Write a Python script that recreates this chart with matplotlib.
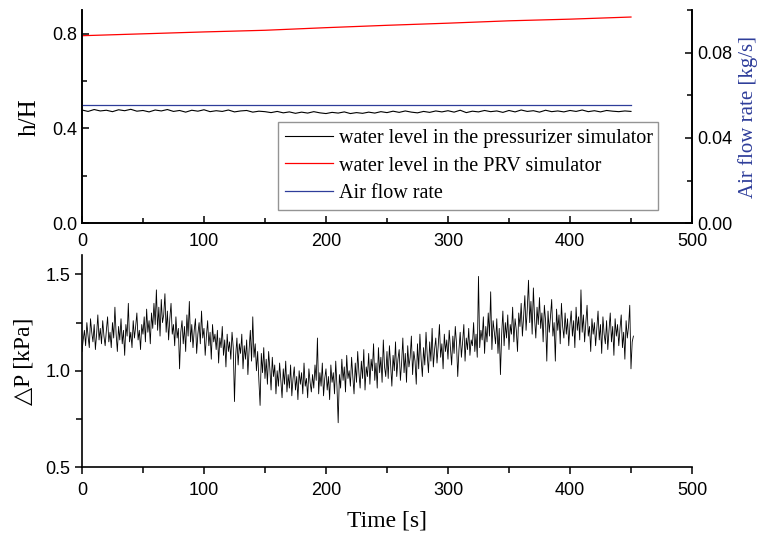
import matplotlib

matplotlib.use("Agg")
import matplotlib.pyplot as plt
import numpy as np
from matplotlib.ticker import MultipleLocator

plt.rcParams["font.family"] = ["Liberation Sans", "DejaVu Sans"]
SERIF = ["Liberation Serif", "DejaVu Serif"]

# water level in the pressurizer simulator, one value every 5 s
level_dt = 5.0
level_pressurizer = [
    0.478, 0.472, 0.480, 0.474, 0.477, 0.471, 0.479, 0.475, 0.481, 0.473,
    0.476, 0.470, 0.478, 0.474, 0.480, 0.472, 0.476, 0.469, 0.477, 0.473,
    0.479, 0.471, 0.475, 0.472, 0.478, 0.470, 0.474, 0.476, 0.469, 0.473,
    0.471, 0.467, 0.472, 0.466, 0.470, 0.464, 0.469, 0.465, 0.471, 0.466,
    0.463, 0.468, 0.465, 0.470, 0.463, 0.467, 0.464, 0.469, 0.465, 0.471,
    0.467, 0.473, 0.468, 0.474, 0.469, 0.466, 0.472, 0.468, 0.474, 0.470,
    0.475, 0.469, 0.477, 0.467, 0.473, 0.470, 0.476, 0.471, 0.474, 0.468,
    0.476, 0.470, 0.478, 0.472, 0.475, 0.469, 0.477, 0.471, 0.474, 0.470,
    0.476, 0.472, 0.478, 0.471, 0.475, 0.470, 0.476, 0.473, 0.471, 0.474,
    0.472,
]

# water level in the PRV simulator
prv_time = [0, 50, 100, 150, 200, 250, 300, 350, 400, 450]
level_prv = [0.792, 0.800, 0.808, 0.815, 0.826, 0.836, 0.845, 0.855, 0.862, 0.871]

# air flow rate [kg/s]
air_time = [0, 450]
air_flow = [0.0554, 0.0554]

# pressure difference [kPa], one value every second
dp_dt = 1.0
delta_p = [
    1.10, 1.16, 1.21, 1.13, 1.25, 1.18, 1.12, 1.27, 1.20, 1.15,
    1.24, 1.11, 1.19, 1.29, 1.16, 1.22, 1.14, 1.26, 1.18, 1.13,
    1.21, 1.28, 1.15, 1.20, 1.12, 1.25, 1.17, 1.33, 1.19, 1.10,
    1.23, 1.16, 1.27, 1.14, 1.21, 1.08, 1.24, 1.18, 1.35, 1.15,
    1.20, 1.12, 1.26, 1.17, 1.23, 1.30, 1.16, 1.21, 1.11, 1.24,
    1.19, 1.28, 1.15, 1.32, 1.20, 1.26, 1.14, 1.30, 1.22, 1.35,
    1.24, 1.42, 1.21, 1.33, 1.18, 1.37, 1.25, 1.29, 1.40, 1.20,
    1.31, 1.16, 1.27, 1.35, 1.19, 1.24, 1.13, 1.28, 1.17, 1.22,
    1.01, 1.20, 1.26, 1.14, 1.23, 1.10, 1.29, 1.18, 1.36, 1.15,
    1.24, 1.12, 1.21, 1.27, 1.09, 1.19, 1.25, 1.14, 1.31, 1.17,
    1.22, 1.08, 1.18, 1.26, 1.13, 1.20, 1.06, 1.24, 1.15, 1.19,
    1.11, 1.21, 1.04, 1.17, 1.12, 1.23, 1.08, 1.16, 1.02, 1.19,
    1.10, 1.15, 1.06, 1.20, 1.12, 0.84, 1.08, 1.17, 1.03, 1.14,
    1.09, 1.19, 1.01, 1.13, 1.06, 1.16, 0.98, 1.11, 1.21, 1.05,
    1.28, 1.07, 1.14, 1.00, 1.10, 0.95, 0.82, 1.09, 0.99, 1.12,
    0.96, 1.06, 0.93, 1.10, 1.01, 0.90, 1.07, 0.97, 1.03, 0.88,
    1.00, 0.92, 1.04, 0.95, 0.86, 1.01, 0.93, 1.05, 0.89, 0.98,
    0.91, 1.03, 0.87, 0.96, 1.02, 0.90, 0.97, 0.85, 1.00, 0.93,
    0.99, 0.88, 1.04, 0.92, 0.96, 0.86, 1.01, 0.94, 0.89, 0.98,
    0.91, 1.03, 0.95, 1.17, 0.88, 0.99, 0.92, 1.04, 0.87, 0.96,
    1.01, 0.90, 0.97, 0.85, 1.03, 0.94, 0.99, 0.88, 1.05, 0.92,
    0.73, 0.98, 0.91, 1.06, 0.95, 1.02, 0.89, 1.08, 0.96, 1.00,
    0.92, 1.07, 0.97, 0.88, 1.04, 0.94, 1.10, 0.99, 0.91, 1.05,
    0.96, 1.11, 0.90, 1.02, 0.97, 1.09, 0.93, 1.06, 1.00, 1.14,
    0.95, 1.04, 0.91, 1.12, 0.99, 1.07, 0.94, 1.16, 1.02, 0.97,
    1.10, 0.96, 1.13, 1.03, 0.92, 1.08, 1.00, 1.15, 0.97, 1.06,
    1.11, 0.95, 1.04, 1.17, 0.99, 1.09, 0.94, 1.13, 1.02, 1.07,
    1.18, 0.98, 1.10, 1.05, 0.93, 1.14, 1.01, 1.19, 1.06, 0.97,
    1.12, 1.03, 1.20, 1.08, 0.99, 1.15, 1.05, 1.22, 1.02, 1.11,
    1.17, 1.04, 1.13, 1.24, 1.07, 1.14, 1.01, 1.19, 1.10, 1.16,
    1.06, 1.21, 1.12, 1.03, 1.18, 1.09, 1.23, 1.14, 0.97, 1.11,
    1.20, 1.07, 1.15, 1.24, 1.05, 1.17, 1.11, 1.22, 1.08, 1.16,
    1.13, 1.25, 1.10, 1.19, 1.07, 1.49, 1.12, 1.21, 1.16, 1.28,
    1.09, 1.23, 1.15, 1.30, 1.18, 1.41, 1.11, 1.26, 1.20, 1.14,
    1.27, 1.09, 1.22, 0.98, 1.19, 1.31, 1.13, 1.25, 1.17, 1.29,
    1.11, 1.24, 1.19, 1.33, 1.15, 1.27, 1.21, 1.10, 1.30, 1.23,
    1.35, 1.18, 1.28, 1.39, 1.21, 1.32, 1.47, 1.25, 1.36, 1.19,
    1.43, 1.27, 1.17, 1.33, 1.24, 1.38, 1.22, 1.30, 1.15, 1.34,
    1.26, 1.05, 1.31, 1.20, 1.28, 1.37, 1.18, 1.25, 1.05, 1.32,
    1.21, 1.29, 1.14, 1.35, 1.23, 1.17, 1.30, 1.19, 1.27, 1.13,
    1.24, 1.31, 1.18, 1.26, 1.12, 1.33, 1.21, 1.28, 1.16, 1.42,
    1.20, 1.29, 1.15, 1.25, 1.34, 1.18, 1.23, 1.10, 1.27, 1.19,
    1.25, 1.13, 1.22, 1.31, 1.16, 1.24, 1.09, 1.28, 1.19, 1.14,
    1.26, 1.11, 1.21, 1.30, 1.15, 1.23, 1.08, 1.27, 1.18, 1.24,
    1.13, 1.22, 1.29, 1.12, 1.20, 1.06, 1.26, 1.17, 1.23, 1.34,
    1.01, 1.15, 1.18,
]

BLUE = "#2e3d9a"
TICK_SIZE = 13

fig = plt.figure(figsize=(7.59, 5.35), dpi=100)
ax_top = fig.add_axes([0.108, 0.583, 0.8037, 0.398])
ax_air = ax_top.twinx()
ax_bot = fig.add_axes([0.108, 0.127, 0.8037, 0.396])

t_level = np.arange(len(level_pressurizer)) * level_dt
l1, = ax_top.plot(t_level, level_pressurizer, color="black", lw=0.8,
                  label="water level in the pressurizer simulator")
l2, = ax_top.plot(prv_time, level_prv, color="red", lw=0.9,
                  label="water level in the PRV simulator")
l3, = ax_air.plot(air_time, air_flow, color=BLUE, lw=0.9, label="Air flow rate")

ax_top.set_xlim(0, 500)
ax_top.set_ylim(0, 0.9)
ax_air.set_ylim(0, 0.1)
ax_top.xaxis.set_major_locator(MultipleLocator(100))
ax_top.xaxis.set_minor_locator(MultipleLocator(50))
ax_top.yaxis.set_minor_locator(MultipleLocator(0.2))
ax_top.set_yticks([0.0, 0.4, 0.8])
ax_air.set_yticks([0.0, 0.04, 0.08])
ax_air.yaxis.set_minor_locator(MultipleLocator(0.02))
ax_air.set_yticklabels(["0.00", "0.04", "0.08"])

for ax in (ax_top, ax_air):
    ax.tick_params(which="both", direction="in", labelsize=TICK_SIZE, width=1.1)
    ax.tick_params(which="major", length=5)
    ax.tick_params(which="minor", length=3.5)
    ax.spines["top"].set_visible(False)
    for side in ("left", "right", "bottom"):
        ax.spines[side].set_linewidth(1.2)
ax_top.tick_params(axis="x", pad=7)

ax_top.set_ylabel("h/H", family=SERIF, fontsize=18, labelpad=8)
ax_air.set_ylabel("Air flow rate [kg/s]", family=SERIF, fontsize=15,
                  color=BLUE, labelpad=4)

leg = ax_top.legend(handles=[l1, l2, l3], loc="lower left",
                    bbox_to_anchor=(0.321, 0.061, 0.623, 0.413), mode="expand",
                    prop={"family": SERIF, "size": 14.5}, handlelength=2.4,
                    handletextpad=0.3, borderpad=0.35, labelspacing=0.42,
                    fancybox=False, borderaxespad=0)
leg.get_frame().set_edgecolor("#7a7a7a")
leg.get_frame().set_linewidth(1.0)

t_dp = np.arange(len(delta_p)) * dp_dt
ax_bot.plot(t_dp, delta_p, color="black", lw=0.6)
ax_bot.set_xlim(0, 500)
ax_bot.set_ylim(0.5, 1.6)
ax_bot.xaxis.set_major_locator(MultipleLocator(100))
ax_bot.xaxis.set_minor_locator(MultipleLocator(50))
ax_bot.yaxis.set_major_locator(MultipleLocator(0.5))
ax_bot.yaxis.set_minor_locator(MultipleLocator(0.25))
ax_bot.tick_params(which="both", direction="out", labelsize=TICK_SIZE, width=1.1)
ax_bot.tick_params(which="major", length=5)
ax_bot.tick_params(which="minor", length=4)
ax_bot.tick_params(axis="x", pad=6)
ax_bot.spines["top"].set_visible(False)
ax_bot.spines["right"].set_visible(False)
for side in ("left", "bottom"):
    ax_bot.spines[side].set_linewidth(1.2)
ax_bot.set_xlabel("Time [s]", family=SERIF, fontsize=17, labelpad=8)
ax_bot.set_ylabel("\u25b3P [kPa]", family=SERIF, fontsize=17, labelpad=8)

fig.savefig("out.png", dpi=100)
